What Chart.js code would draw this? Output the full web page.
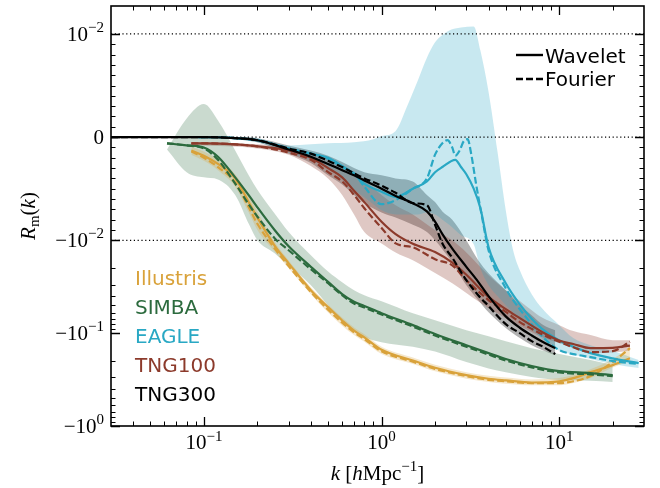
<!DOCTYPE html>
<html>
<head>
<meta charset="utf-8">
<script src="https://cdn.jsdelivr.net/npm/chart.js@4.4.1/dist/chart.umd.min.js"></script>
<style>
    html, body { margin: 0; padding: 0; background: #ffffff; }
</style>
</head>
<body>
<canvas id="rmChart" width="660" height="488"></canvas>
<script>
// axis limits (k in h/Mpc, R_m is dimensionless)
const xLimits = [0.03, 30];
const yLimits = [-1, 0.02];

// tick positions and labels
const xMajorTicks = [0.1, 1, 10];
const xTickBase = ['10', '10', '10'];
const xTickExp = ['\u22121', '0', '1'];
const yMajorTicks = [0.01, 0, -0.01, -0.1, -1];
const yTickBase = ['10', '0', '\u221210', '\u221210', '\u221210'];
const yTickExp = ['\u22122', '', '\u22122', '\u22121', '0'];
const refLines = [0.01, 0, -0.01];

const simNames = ['Illustris', 'SIMBA', 'EAGLE', 'TNG100', 'TNG300'];
const simColors = ['#d9a23a', '#2c6b3e', '#29a8c4', '#8c3a2b', '#000000'];
const bandAlpha = [0.26, 0.25, 0.26, 0.28, 0.3];

// Illustris
const illustrisK = [0.085, 0.1, 0.12, 0.15, 0.18, 0.2, 0.25, 0.3, 0.4, 0.5, 0.6, 0.7, 0.8, 1, 1.5, 2, 3, 4, 5, 7, 10, 12, 15, 20, 25];
const illustrisWavelet = [-0.0013, -0.0018, -0.0026, -0.0040, -0.0064, -0.0078, -0.0114, -0.0177, -0.0345, -0.0525, -0.073, -0.094, -0.111, -0.151, -0.197, -0.236, -0.283, -0.31, -0.323, -0.34, -0.33, -0.305, -0.263, -0.221, -0.186];
const illustrisFourier = [-0.0014, -0.0020, -0.0029, -0.0044, -0.0069, -0.0084, -0.0122, -0.0190, -0.036, -0.056, -0.077, -0.098, -0.116, -0.157, -0.203, -0.243, -0.29, -0.318, -0.33, -0.345, -0.345, -0.33, -0.29, -0.205, -0.145];
const illustrisUpper = [-0.0009, -0.0014, -0.0022, -0.0036, -0.0058, -0.0072, -0.0104, -0.0165, -0.032, -0.049, -0.068, -0.087, -0.103, -0.140, -0.183, -0.219, -0.263, -0.288, -0.30, -0.315, -0.305, -0.283, -0.245, -0.19, -0.14];
const illustrisLower = [-0.0017, -0.0023, -0.0032, -0.0048, -0.0074, -0.0090, -0.0132, -0.0200, -0.038, -0.060, -0.083, -0.105, -0.124, -0.168, -0.215, -0.258, -0.31, -0.335, -0.35, -0.365, -0.365, -0.345, -0.305, -0.235, -0.20];

// SIMBA
const simbaK = [0.062, 0.08, 0.1, 0.12, 0.15, 0.18, 0.2, 0.25, 0.3, 0.4, 0.5, 0.6, 0.7, 0.8, 1, 1.5, 2, 3, 4, 5, 7, 10, 15, 20];
const simbaWavelet = [-0.0006, -0.0008, -0.0010, -0.0019, -0.0039, -0.0057, -0.0068, -0.0090, -0.0116, -0.0193, -0.028, -0.038, -0.046, -0.051, -0.061, -0.082, -0.102, -0.135, -0.164, -0.190, -0.226, -0.257, -0.269, -0.283];
const simbaFourier = [-0.0006, -0.0008, -0.0011, -0.0022, -0.0045, -0.0066, -0.0077, -0.0098, -0.0128, -0.0205, -0.029, -0.039, -0.048, -0.053, -0.063, -0.085, -0.106, -0.140, -0.170, -0.197, -0.234, -0.265, -0.278, -0.29];
const simbaUpper = [-0.0012, 0.0018, 0.0032, 0.0016, -0.0013, -0.0038, -0.0051, -0.0074, -0.0092, -0.0145, -0.0217, -0.0283, -0.0345, -0.039, -0.0453, -0.061, -0.0725, -0.093, -0.108, -0.122, -0.145, -0.168, -0.195, -0.221];
const simbaLower = [-0.0012, -0.0034, -0.0039, -0.0041, -0.0056, -0.0085, -0.0100, -0.0138, -0.0186, -0.0305, -0.050, -0.0725, -0.093, -0.110, -0.125, -0.140, -0.158, -0.205, -0.24, -0.263, -0.297, -0.32, -0.325, -0.336];

// EAGLE
const eagleK = [0.093, 0.12, 0.15, 0.2, 0.3, 0.4, 0.5, 0.6, 0.7, 0.8, 1, 1.2, 1.5, 1.8, 2, 2.2, 2.6, 2.8, 3, 3.3, 3.6, 4, 5, 6, 7, 8, 10, 12, 15, 20, 28];
const eagleWavelet = [0, 0, -0.0001, -0.0003, -0.0011, -0.0016, -0.0020, -0.0028, -0.0036, -0.0045, -0.0053, -0.0058, -0.0050, -0.0043, -0.0034, -0.0029, -0.0022, -0.0029, -0.0036, -0.0050, -0.0069, -0.0118, -0.029, -0.049, -0.070, -0.090, -0.120, -0.140, -0.164, -0.187, -0.21];
const eagleFourierK = [0.093, 0.12, 0.15, 0.2, 0.3, 0.4, 0.5, 0.6, 0.7, 0.8, 1, 1.2, 1.5, 1.8, 2, 2.2, 2.35, 2.5, 2.6, 2.75, 2.9, 3.05, 3.2, 3.4, 3.7, 4, 5, 6, 7, 8, 10, 12, 15, 20, 28];
const eagleFourier = [0, 0, -0.0001, -0.0003, -0.0011, -0.0016, -0.0021, -0.0029, -0.0035, -0.0048, -0.0065, -0.0061, -0.0050, -0.0040, -0.0017, -0.0006, -0.0003, -0.0010, -0.0018, -0.0013, -0.0004, -0.0002, -0.0017, -0.0045, -0.0080, -0.0128, -0.0328, -0.0553, -0.080, -0.108, -0.152, -0.168, -0.181, -0.2, -0.215];
const eagleBandK = [0.093, 0.15, 0.2, 0.3, 0.4, 0.5, 0.7, 0.9, 1, 1.2, 1.4, 1.6, 1.8, 2, 2.2, 2.4, 2.8, 3.3, 3.6, 4, 4.5, 5, 5.5, 6, 7, 8, 10, 12, 15, 20, 28];
const eagleUpper = [0, 0, -0.0001, -0.0008, -0.0007, -0.0006, -0.0005, -0.0002, 0.0001, 0.0006, 0.0031, 0.0055, 0.0077, 0.0092, 0.0099, 0.0109, 0.0117, 0.012, 0.0084, 0.0044, -0.0015, -0.0071, -0.0128, -0.021, -0.038, -0.054, -0.082, -0.113, -0.135, -0.156, -0.195];
const eagleLower = [0, -0.0002, -0.0005, -0.0015, -0.0022, -0.0030, -0.0051, -0.0065, -0.0071, -0.0075, -0.0075, -0.0075, -0.0073, -0.0075, -0.0080, -0.0085, -0.0095, -0.0110, -0.020, -0.0305, -0.040, -0.050, -0.060, -0.070, -0.090, -0.115, -0.155, -0.170, -0.190, -0.215, -0.238];

// TNG100
const tng100K = [0.085, 0.1, 0.15, 0.2, 0.3, 0.4, 0.5, 0.6, 0.7, 0.8, 1, 1.2, 1.5, 2, 2.5, 3, 4, 5, 6, 7, 8, 10, 12, 15, 20, 25];
const tng100Wavelet = [-0.0006, -0.0006, -0.0007, -0.0009, -0.0013, -0.0020, -0.0030, -0.0039, -0.0052, -0.0063, -0.0082, -0.0094, -0.0109, -0.0134, -0.0174, -0.0235, -0.0407, -0.0552, -0.069, -0.083, -0.097, -0.120, -0.131, -0.145, -0.144, -0.136];
const tng100Fourier = [-0.0006, -0.0006, -0.0007, -0.0009, -0.0015, -0.0022, -0.0034, -0.0043, -0.0056, -0.0069, -0.0088, -0.0108, -0.0119, -0.0160, -0.0186, -0.0269, -0.044, -0.059, -0.076, -0.090, -0.103, -0.124, -0.142, -0.160, -0.156, -0.124];
const tng100Upper = [-0.0005, -0.0005, -0.0006, -0.0007, -0.0010, -0.0015, -0.0020, -0.0027, -0.0034, -0.0042, -0.0056, -0.0066, -0.0075, -0.0090, -0.0100, -0.0135, -0.0238, -0.0345, -0.045, -0.0566, -0.068, -0.082, -0.095, -0.105, -0.119, -0.119];
const tng100Lower = [-0.0007, -0.0008, -0.0009, -0.0011, -0.0017, -0.0028, -0.0040, -0.0056, -0.0075, -0.0092, -0.0108, -0.0135, -0.0164, -0.0225, -0.029, -0.037, -0.054, -0.069, -0.083, -0.097, -0.11, -0.128, -0.145, -0.165, -0.162, -0.155];

// TNG300
const tng300K = [0.03, 0.05, 0.1, 0.15, 0.2, 0.3, 0.4, 0.5, 0.6, 0.7, 0.8, 1, 1.2, 1.5, 1.8, 2, 2.2, 2.5, 3, 3.5, 4, 5, 6, 7, 8, 9.5];
const tng300Wavelet = [0, 0, 0, -0.0001, -0.0003, -0.0012, -0.0019, -0.0026, -0.0032, -0.0037, -0.0042, -0.0050, -0.0057, -0.0064, -0.0072, -0.0082, -0.0094, -0.0123, -0.0193, -0.028, -0.040, -0.066, -0.0875, -0.106, -0.123, -0.145];
const tng300Fourier = [0, 0, 0, -0.0001, -0.0003, -0.0011, -0.0016, -0.0023, -0.0029, -0.0035, -0.0040, -0.0047, -0.0054, -0.0064, -0.0066, -0.0085, -0.0108, -0.0154, -0.0269, -0.039, -0.051, -0.080, -0.100, -0.122, -0.138, -0.168];
const tng300Upper = [0, 0, 0, 0, -0.0001, -0.0008, -0.0013, -0.0018, -0.0024, -0.0030, -0.0034, -0.0037, -0.0040, -0.0043, -0.0056, -0.0063, -0.0072, -0.0080, -0.0100, -0.0164, -0.0226, -0.0345, -0.050, -0.064, -0.080, -0.093];
const tng300Lower = [0, 0, 0, -0.0002, -0.0005, -0.0016, -0.0025, -0.0037, -0.0046, -0.0056, -0.0064, -0.0073, -0.0078, -0.0085, -0.0092, -0.0100, -0.0125, -0.0173, -0.0305, -0.0442, -0.0595, -0.088, -0.113, -0.135, -0.152, -0.173];

// symlog axis like matplotlib (linthresh 1e-2, linscale 1, base 10)
const LINTHRESH = 0.01;
const LINSCALE = 1 / (1 - 1 / 10);
function symlog(v) {
    const a = Math.abs(v);
    const t = a <= LINTHRESH ? a / LINTHRESH * LINSCALE : LINSCALE + Math.log10(a / LINTHRESH);
    return v < 0 ? -t : t;
}

function toPoints(ks, vals) {
    return ks.map((k, i) => ({ x: k, y: symlog(vals[i]) }));
}

function rgba(hex, a) {
    const n = parseInt(hex.slice(1), 16);
    return 'rgba(' + (n >> 16) + ',' + ((n >> 8) & 255) + ',' + (n & 255) + ',' + a + ')';
}

function bandDatasets(ks, upper, lower, color, alpha) {
    return [
        {
            data: toPoints(ks, upper),
            borderWidth: 0,
            pointRadius: 0,
            fill: false,
            cubicInterpolationMode: 'monotone',
            order: 30
        },
        {
            data: toPoints(ks, lower),
            borderWidth: 0,
            pointRadius: 0,
            fill: '-1',
            backgroundColor: rgba(color, alpha),
            cubicInterpolationMode: 'monotone',
            order: 30
        }
    ];
}

function curveDataset(ks, vals, color, dashed, order) {
    return {
        data: toPoints(ks, vals),
        borderColor: color,
        borderWidth: 2.2,
        borderDash: dashed ? [7, 3] : [],
        borderJoinStyle: 'round',
        pointRadius: 0,
        fill: false,
        cubicInterpolationMode: 'monotone',
        order: order
    };
}

const datasets = [];
datasets.push(...bandDatasets(illustrisK, illustrisUpper, illustrisLower, simColors[0], bandAlpha[0]));
datasets.push(...bandDatasets(simbaK, simbaUpper, simbaLower, simColors[1], bandAlpha[1]));
datasets.push(...bandDatasets(eagleBandK, eagleUpper, eagleLower, simColors[2], bandAlpha[2]));
datasets.push(...bandDatasets(tng100K, tng100Upper, tng100Lower, simColors[3], bandAlpha[3]));
datasets.push(...bandDatasets(tng300K, tng300Upper, tng300Lower, simColors[4], bandAlpha[4]));

refLines.forEach(v => {
    datasets.push({
        data: [{ x: xLimits[0], y: symlog(v) }, { x: xLimits[1], y: symlog(v) }],
        borderColor: '#000000',
        borderWidth: 1.2,
        borderDash: [1.2, 2.6],
        pointRadius: 0,
        fill: false,
        order: 20
    });
});

datasets.push(curveDataset(illustrisK, illustrisWavelet, simColors[0], false, 15));
datasets.push(curveDataset(illustrisK, illustrisFourier, simColors[0], true, 15));
datasets.push(curveDataset(simbaK, simbaWavelet, simColors[1], false, 14));
datasets.push(curveDataset(simbaK, simbaFourier, simColors[1], true, 14));
datasets.push(curveDataset(eagleK, eagleWavelet, simColors[2], false, 13));
datasets.push(curveDataset(eagleFourierK, eagleFourier, simColors[2], true, 13));
datasets.push(curveDataset(tng100K, tng100Wavelet, simColors[3], false, 12));
datasets.push(curveDataset(tng100K, tng100Fourier, simColors[3], true, 12));
datasets.push(curveDataset(tng300K, tng300Wavelet, simColors[4], false, 11));
datasets.push(curveDataset(tng300K, tng300Fourier, simColors[4], true, 11));

const SERIF = '"Liberation Serif", "DejaVu Serif", serif';
const SANS = '"DejaVu Sans", sans-serif';

// draw a run of text pieces (base, superscript, subscript) side by side
function drawParts(ctx, parts, x, y, align) {
    let total = 0;
    parts.forEach(p => {
        ctx.font = p.font;
        p.w = ctx.measureText(p.text).width;
        total += p.w;
    });
    let cx = x;
    if (align === 'center') cx = x - total / 2;
    if (align === 'right') cx = x - total;
    ctx.textAlign = 'left';
    ctx.textBaseline = 'alphabetic';
    parts.forEach(p => {
        ctx.font = p.font;
        ctx.fillText(p.text, cx, y + (p.dy || 0));
        cx += p.w;
    });
}

const axesDecor = {
    id: 'axesDecor',
    afterDraw(chart) {
        const ctx = chart.ctx;
        const area = chart.chartArea;
        const xs = chart.scales.x;
        const ys = chart.scales.y;
        const baseFont = '21px ' + SERIF;
        const supFont = '15px ' + SERIF;

        ctx.save();
        ctx.strokeStyle = '#000000';
        ctx.fillStyle = '#000000';

        // ticks, pointing inwards on all four sides
        function xTick(v, len, w) {
            const px = Math.round(xs.getPixelForValue(v)) + 0.5;
            ctx.lineWidth = w;
            ctx.beginPath();
            ctx.moveTo(px, area.bottom); ctx.lineTo(px, area.bottom - len);
            ctx.moveTo(px, area.top); ctx.lineTo(px, area.top + len);
            ctx.stroke();
        }
        function yTick(v, len, w) {
            const py = Math.round(ys.getPixelForValue(symlog(v))) + 0.5;
            ctx.lineWidth = w;
            ctx.beginPath();
            ctx.moveTo(area.left, py); ctx.lineTo(area.left + len, py);
            ctx.moveTo(area.right, py); ctx.lineTo(area.right - len, py);
            ctx.stroke();
        }
        [0.01, 0.1, 1, 10].forEach(d => {
            for (let m = 2; m <= 9; m++) {
                const v = d * m;
                if (v > xLimits[0] && v < xLimits[1]) xTick(v, 4.5, 1);
            }
        });
        xMajorTicks.forEach(v => xTick(v, 9, 1.3));
        for (let m = 1; m <= 9; m++) {
            yTick(m * 0.001, 4.5, 1);
            yTick(-m * 0.001, 4.5, 1);
        }
        [0.01, 0.1].forEach(d => {
            for (let m = 2; m <= 9; m++) yTick(-d * m, 4.5, 1);
        });
        yMajorTicks.forEach(v => yTick(v, 9, 1.3));

        // frame
        ctx.lineWidth = 1.6;
        ctx.strokeRect(area.left, area.top, area.right - area.left, area.bottom - area.top);

        // tick labels
        xMajorTicks.forEach((v, i) => {
            const px = xs.getPixelForValue(v);
            drawParts(ctx, [
                { text: xTickBase[i], font: baseFont },
                { text: xTickExp[i], font: supFont, dy: -8 }
            ], px, area.bottom + 23, 'center');
        });
        yMajorTicks.forEach((v, i) => {
            const py = ys.getPixelForValue(symlog(v));
            const parts = [{ text: yTickBase[i], font: baseFont }];
            if (yTickExp[i]) parts.push({ text: yTickExp[i], font: supFont, dy: -9 });
            drawParts(ctx, parts, area.left - 7, py + 7, 'right');
        });

        // axis titles
        drawParts(ctx, [
            { text: 'k', font: 'italic 21px ' + SERIF },
            { text: ' [', font: baseFont },
            { text: 'h', font: 'italic 21px ' + SERIF },
            { text: 'Mpc', font: baseFont },
            { text: '\u22121', font: supFont, dy: -9 },
            { text: ']', font: baseFont }
        ], (area.left + area.right) / 2, 480, 'center');

        ctx.save();
        ctx.translate(35, (area.top + area.bottom) / 2);
        ctx.rotate(-Math.PI / 2);
        drawParts(ctx, [
            { text: 'R', font: 'italic 21px ' + SERIF },
            { text: 'm', font: supFont, dy: 4 },
            { text: '(', font: baseFont },
            { text: 'k', font: 'italic 21px ' + SERIF },
            { text: ')', font: baseFont }
        ], 0, 0, 'center');
        ctx.restore();

        // simulation legend (coloured names)
        ctx.font = '20px ' + SANS;
        ctx.textAlign = 'left';
        ctx.textBaseline = 'alphabetic';
        simNames.forEach((name, i) => {
            ctx.fillStyle = simColors[i];
            ctx.fillText(name, 135, 285 + i * 29);
        });

        // line style legend
        ctx.fillStyle = '#000000';
        ctx.lineWidth = 2.4;
        ctx.setLineDash([]);
        ctx.beginPath(); ctx.moveTo(516, 55); ctx.lineTo(543, 55); ctx.stroke();
        ctx.setLineDash([7, 3]);
        ctx.beginPath(); ctx.moveTo(516, 79); ctx.lineTo(543, 79); ctx.stroke();
        ctx.setLineDash([]);
        ctx.fillText('Wavelet', 545, 63);
        ctx.fillText('Fourier', 545, 86);
        ctx.restore();
    }
};

const ctx = document.getElementById('rmChart').getContext('2d');
const rmChart = new Chart(ctx, {
    type: 'line',
    data: { datasets: datasets },
    options: {
        responsive: false,
        animation: false,
        devicePixelRatio: 1,
        events: [],
        layout: { padding: { left: 0, right: 16, top: 6, bottom: 0 } },
        scales: {
            x: {
                type: 'logarithmic',
                min: xLimits[0],
                max: xLimits[1],
                ticks: { display: false },
                grid: { display: false, drawTicks: false },
                border: { display: false },
                afterFit: function(scale) { scale.height = 62; }
            },
            y: {
                type: 'linear',
                min: symlog(yLimits[0]),
                max: symlog(yLimits[1]),
                ticks: { display: false },
                grid: { display: false, drawTicks: false },
                border: { display: false },
                afterFit: function(scale) { scale.width = 111; }
            }
        },
        plugins: {
            legend: { display: false },
            tooltip: { enabled: false }
        }
    },
    plugins: [axesDecor]
});
</script>
</body>
</html>
